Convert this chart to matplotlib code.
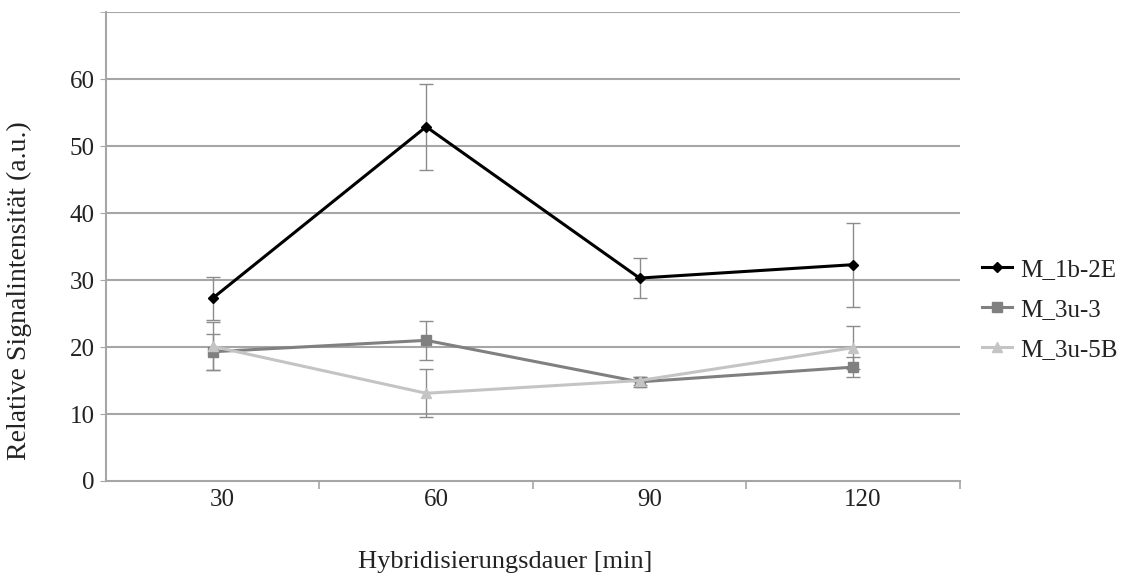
import matplotlib
matplotlib.use("Agg")
import matplotlib.pyplot as plt
import matplotlib.transforms as mtransforms
import numpy as np

categories = ["30", "60", "90", "120"]
series_names = ["M_1b-2E", "M_3u-3", "M_3u-5B"]
m1b_2e = [27.3, 52.9, 30.3, 32.3]
m1b_2e_err = [3.2, 6.4, 3.0, 6.3]
m3u_3 = [19.3, 21.0, 14.8, 17.0]
m3u_3_err = [2.7, 2.9, 0.8, 1.5]
m3u_5b = [20.1, 13.1, 15.0, 19.9]
m3u_5b_err = [3.6, 3.6, 0.6, 3.2]

plt.rcParams['font.family'] = ['Liberation Serif', 'DejaVu Serif']

fig = plt.figure(figsize=(11.33, 5.83), dpi=100)
ax = fig.add_axes([0.0936, 0.175, 0.7534, 0.804])

x = np.arange(len(categories))
grid_c = "#a6a6a6"
text_c = "#222222"

styles = [
    (m1b_2e, m1b_2e_err, "#000000", "D", 5.5),
    (m3u_3, m3u_3_err, "#808080", "s", 7.5),
    (m3u_5b, m3u_5b_err, "#c4c4c4", "^", 7.5),
]
for name, (vals, errs, col, mk, ms) in zip(series_names, styles):
    ax.errorbar(x, vals, yerr=errs, fmt='none', ecolor="#8c8c8c", elinewidth=1.0,
                capsize=5, capthick=1.0, zorder=3)
    ax.plot(x, vals, color=col, marker=mk, markersize=ms, linewidth=2.2,
            label=name, zorder=4)

ax.set_ylim(0, 70)
ax.set_xlim(-0.5, 3.5)
ax.set_yticks(np.arange(0, 61, 10))
ax.set_yticks([70], minor=True)
for yv in np.arange(10, 71, 10):
    ax.axhline(yv, color=grid_c, linewidth=1.5, zorder=1)
ax.tick_params(axis='y', which='both', length=4, color=grid_c, labelsize=18,
               pad=4, labelcolor=text_c)

ax.set_xticks(x)
ax.set_xticklabels(categories)
ax.tick_params(axis='x', which='major', length=0, labelsize=18, pad=6,
               labelcolor=text_c)
offset = mtransforms.ScaledTranslation(10 / 100, 0, fig.dpi_scale_trans)
for lab in ax.get_xticklabels():
    lab.set_transform(lab.get_transform() + offset)
ax.set_xticks([0.5, 1.5, 2.5, 3.5], minor=True)
ax.tick_params(axis='x', which='minor', length=6, color=grid_c, width=1.2)

for s in ['top', 'right']:
    ax.spines[s].set_visible(False)
for s in ['left', 'bottom']:
    ax.spines[s].set_color(grid_c)
    ax.spines[s].set_linewidth(1.5)

ax.set_xlabel("Hybridisierungsdauer [min]", fontsize=19, color=text_c)
ax.xaxis.set_label_coords(0.468, -0.149)
ax.set_ylabel("Relative Signalintensität (a.u.)", fontsize=20, color=text_c)
ax.yaxis.set_label_coords(-0.087, 0.407)

leg = ax.legend(loc='center left', bbox_to_anchor=(1.015, 0.365), frameon=False,
                fontsize=18, handlelength=1.2, labelspacing=0.7, handletextpad=0.3,
                borderaxespad=0)
for t in leg.get_texts():
    t.set_color(text_c)

fig.savefig("out.png", dpi=100)
